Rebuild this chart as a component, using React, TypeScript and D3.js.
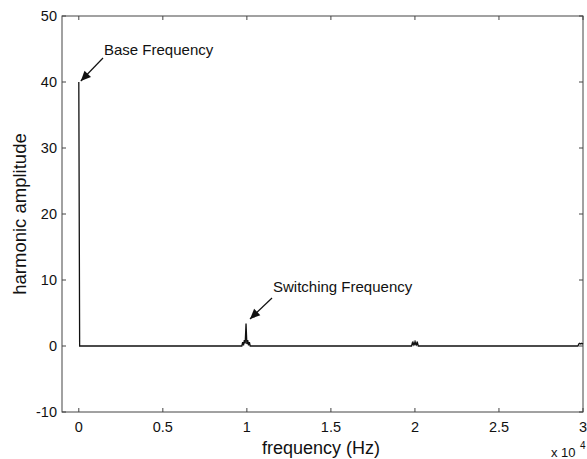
import React from "react";
import * as d3 from "d3";

// Spectrum data (frequency in Hz, harmonic amplitude)
const freqs: number[] = [
  0, 50, 9700, 9750, 9800, 9850, 9900, 9950, 10000, 10050, 10100, 10150, 10200,
  19800, 19850, 19900, 19950, 20000, 20050, 20100, 20150, 20200,
  29700, 29750, 29800, 29850, 29900, 29950, 30000,
];
const amps: number[] = [
  40, 0, 0, 0.6, 0.1, 0.9, 0.4, 3.4, 0.3, 0.9, 0.1, 0.6, 0,
  0, 0.5, 0.2, 0.6, 0.1, 0.6, 0.2, 0.5, 0,
  0, 0.3, 0.4, 0.3, 0.4, 0.3, 0.4,
];
const xTicks: number[] = [0, 5000, 10000, 15000, 20000, 25000, 30000];
const xTickLabels: string[] = ["0", "0.5", "1", "1.5", "2", "2.5", "3"];
const yTicks: number[] = [-10, 0, 10, 20, 30, 40, 50];
const annotations = [
  { text: "Base Frequency", fx: 0, fy: 40 },
  { text: "Switching Frequency", fx: 10000, fy: 3.4 },
];

const W = 587;
const H = 459;
const L = 62, R = 583, T = 16, B = 412;
const FONT = "'Liberation Sans', Arial, Helvetica, sans-serif";

export default function App() {
  const x = d3.scaleLinear().domain([-1000, 30000]).range([L, R]);
  const y = d3.scaleLinear().domain([-10, 50]).range([B, T]);
  const pts: [number, number][] = freqs.map((f, i) => [f, amps[i]]);
  const line = d3
    .line<[number, number]>()
    .x((d) => x(d[0]))
    .y((d) => y(d[1]));
  const tick = 4;
  const axisColor = "#444";
  const arrowHead = (x1: number, y1: number, x2: number, y2: number) => {
    const ang = Math.atan2(y2 - y1, x2 - x1);
    const len = 10, wd = 4.5;
    const bx = x2 - len * Math.cos(ang), by = y2 - len * Math.sin(ang);
    const px = -Math.sin(ang) * wd, py = Math.cos(ang) * wd;
    return `M${x2},${y2}L${bx + px},${by + py}L${bx - px},${by - py}Z`;
  };
  const baseArrow = { x1: 103, y1: 58, x2: x(0) + 2, y2: y(40) - 1 };
  const swArrow = { x1: 272, y1: 298, x2: 250, y2: 319 };
  return (
    <svg width={W} height={H} style={{ display: "block", position: "absolute", left: 0, top: 0 }} fontFamily={FONT}>
      <rect x={0} y={0} width={W} height={H} fill="#fff" />
      <rect x={L} y={T} width={R - L} height={B - T} fill="none" stroke={axisColor} strokeWidth={1} />
      {xTicks.map((t, i) => (
        <g key={"x" + t}>
          <line x1={x(t)} x2={x(t)} y1={B} y2={B - tick} stroke={axisColor} />
          <line x1={x(t)} x2={x(t)} y1={T} y2={T + tick} stroke={axisColor} />
          <text x={x(t)} y={B + 20} fontSize={14.5} textAnchor="middle" fill="#111">
            {xTickLabels[i]}
          </text>
        </g>
      ))}
      {yTicks.map((t) => (
        <g key={"y" + t}>
          <line x1={L} x2={L + tick} y1={y(t)} y2={y(t)} stroke={axisColor} />
          <line x1={R} x2={R - tick} y1={y(t)} y2={y(t)} stroke={axisColor} />
          <text x={L - 5} y={y(t) + 5} fontSize={14.5} textAnchor="end" fill="#111">
            {t}
          </text>
        </g>
      ))}
      <path d={line(pts) || ""} fill="none" stroke="#111" strokeWidth={1.3} strokeLinejoin="miter" />
      <line x1={baseArrow.x1} y1={baseArrow.y1} x2={baseArrow.x2} y2={baseArrow.y2} stroke="#111" strokeWidth={1.2} />
      <path d={arrowHead(baseArrow.x1, baseArrow.y1, baseArrow.x2, baseArrow.y2)} fill="#111" />
      <text x={104} y={55} fontSize={15} fill="#111">{annotations[0].text}</text>
      <line x1={swArrow.x1} y1={swArrow.y1} x2={swArrow.x2} y2={swArrow.y2} stroke="#111" strokeWidth={1.2} />
      <path d={arrowHead(swArrow.x1, swArrow.y1, swArrow.x2, swArrow.y2)} fill="#111" />
      <text x={273} y={292} fontSize={15} fill="#111">{annotations[1].text}</text>
      <text x={321} y={454} fontSize={18} textAnchor="middle" fill="#111">frequency (Hz)</text>
      <text transform={`translate(26,214) rotate(-90)`} fontSize={18.5} textAnchor="middle" fill="#111">
        harmonic amplitude
      </text>
      <text x={551} y={457} fontSize={13} fill="#111">x 10</text>
      <text x={580} y={449} fontSize={10} fill="#111">4</text>
    </svg>
  );
}
